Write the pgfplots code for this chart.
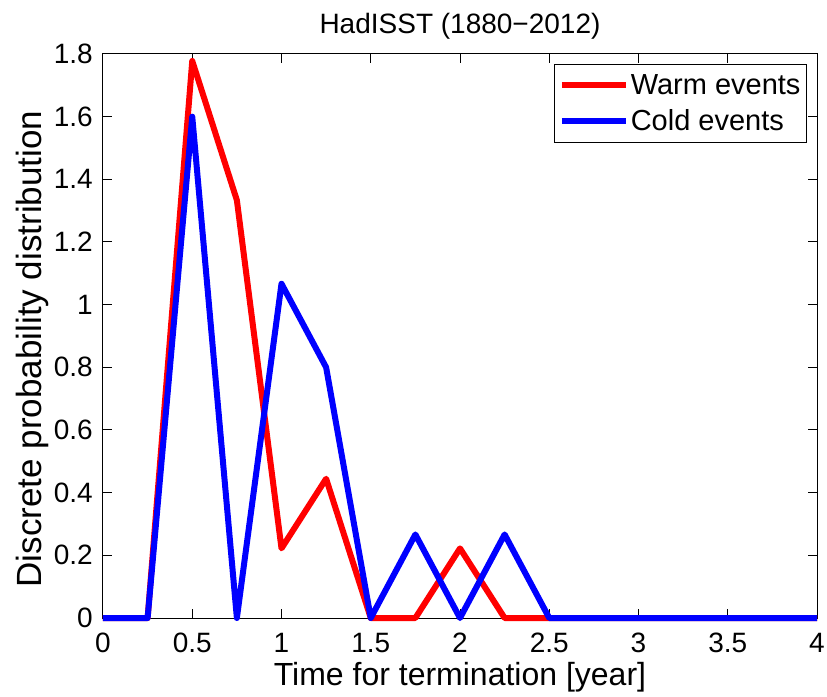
\documentclass[border=0pt]{standalone}
\usepackage{fontspec}
\setmainfont{Liberation Sans}
\usepackage{pgfplots}
\pgfplotsset{compat=1.18}
\definecolor{mred}{rgb}{1,0,0}
\definecolor{mblue}{rgb}{0,0,1}
\begin{document}
\begin{tikzpicture}
\useasboundingbox (-103pt,-78pt) rectangle (724pt,618pt);
\begin{axis}[
  at={(0,0)}, anchor=south west,
  scale only axis, width=714pt, height=564pt,
  xmin=0, xmax=4, ymin=0, ymax=1.8,
  xtick={0,0.5,1,1.5,2,2.5,3,3.5,4},
  ytick={0,0.2,0.4,0.6,0.8,1,1.2,1.4,1.6,1.8},
  tick align=inside, tick pos=both,
  major tick length=9pt,
  every tick/.style={black, line width=1pt},
  axis line style={black, line width=1pt},
  /pgf/number format/assume math mode=true,
  ticklabel style={font=\fontsize{28}{28}\selectfont},
  xticklabel style={anchor=north, inner sep=0pt, yshift=-15pt},
  yticklabel style={anchor=east, inner sep=0pt, xshift=-10pt},
  xlabel={Time for termination [year]},
  ylabel={Discrete probability distribution},
  xlabel style={font=\fontsize{32}{32}\selectfont, at={(axis description cs:0.5,0)}, anchor=north, inner sep=0pt, yshift=-44pt},
  ylabel style={font=\fontsize{35}{35}\selectfont, at={(axis description cs:-0.076,0.477)}, anchor=south, inner sep=0pt},
  title={HadISST (1880−2012)},
  title style={font=\fontsize{28}{28}\selectfont, yshift=5pt},
  clip=false,
  legend style={at={(1,1)}, anchor=north east, xshift=-10pt, yshift=-10pt,
    draw=black, line width=1pt, font=\fontsize{29}{34}\selectfont,
    inner xsep=4pt, inner ysep=8pt, row sep=10pt},
  legend cell align=left,
  legend image code/.code={\draw[#1] (0pt,0pt) -- (64pt,0pt);},
]
\addplot[mred, line width=6pt, line join=round] coordinates {
(0,0) (0.25,0) (0.5,1.7778) (0.75,1.3333) (1,0.2222) (1.25,0.4444)
(1.5,0) (1.75,0) (2,0.2222) (2.25,0) (2.5,0) (2.75,0) (3,0) (3.25,0) (3.5,0) (3.75,0) (4,0)};
\addlegendentry{Warm events}
\addplot[mblue, line width=6pt, line join=round] coordinates {
(0,0) (0.25,0) (0.5,1.6) (0.75,0) (1,1.0667) (1.25,0.8)
(1.5,0) (1.75,0.2667) (2,0) (2.25,0.2667) (2.5,0) (2.75,0) (3,0) (3.25,0) (3.5,0) (3.75,0) (4,0)};
\addlegendentry{Cold events}
\end{axis}
\end{tikzpicture}
\end{document}
